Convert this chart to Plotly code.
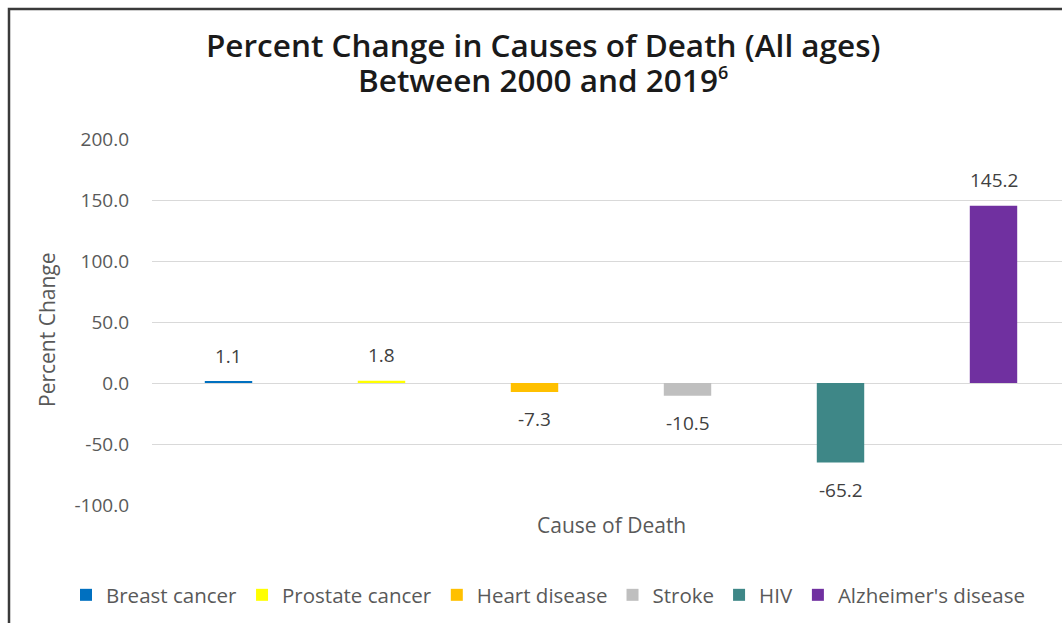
import plotly.graph_objects as go

causes = ["Breast cancer", "Prostate cancer", "Heart disease", "Stroke", "HIV", "Alzheimer's disease"]
values = [1.1, 1.8, -7.3, -10.5, -65.2, 145.2]
colors = ["#0070C0", "#FFFF00", "#FFC000", "#BFBFBF", "#3E8787", "#7030A0"]
y_ticks = [-100, -50, 0, 50, 100, 150, 200]
y_tick_labels = [f"{t:.1f}" for t in y_ticks]

fig = go.Figure()
for i, (name, v, c) in enumerate(zip(causes, values, colors)):
    fig.add_trace(go.Bar(x=[i], y=[v], name=name, marker_color=c, marker_line_width=0,
                         width=0.31, hoverinfo="name+y"))
    fig.add_annotation(x=i, y=v, xref="x", yref="y", text=f"{v:.1f}", showarrow=False,
                       xanchor="center", yanchor="middle",
                       yshift=26 if v >= 0 else -27,
                       font=dict(family="Open Sans", size=19, color="#404040"))

W, H = 1062, 623
L, R, T, B = 152, 0, 139, 118
pw, ph = W - L - R, H - T - B

def px(x):
    return (x - L) / pw

def py(y):
    return (H - B - y) / ph

title_font = dict(family="Open Sans", size=31.5, color="#1A1A1A", weight=600)
fig.add_annotation(x=px(543), y=py(45), xref="paper", yref="paper",
                   text="Percent Change in Causes of Death (All ages)",
                   xanchor="center", yanchor="middle", showarrow=False, font=title_font)
fig.add_annotation(x=px(543), y=py(80), xref="paper", yref="paper",
                   text="Between 2000 and 2019<sup><span style='font-size:18px'>6</span></sup>",
                   xanchor="center", yanchor="middle", showarrow=False, font=title_font)

fig.add_annotation(x=px(611), y=py(525), xref="paper", yref="paper", text="Cause of Death",
                   xanchor="center", yanchor="middle",
                   showarrow=False, font=dict(family="Open Sans", size=21, color="#595959"))
fig.add_annotation(x=px(47), y=py(330), xref="paper", yref="paper", text="Percent Change",
                   textangle=-90, xanchor="center", yanchor="middle", showarrow=False,
                   font=dict(family="Open Sans", size=21, color="#595959"))

fig.add_shape(type="rect", xref="paper", yref="paper", x0=px(9), y0=py(650), x1=px(1080), y1=py(9),
              line=dict(color="#3A3A3A", width=2.5), fillcolor="rgba(0,0,0,0)", layer="above")

fig.update_layout(
    width=W, height=H,
    margin=dict(l=L, r=R, t=T, b=B),
    paper_bgcolor="white", plot_bgcolor="white",
    barmode="overlay",
    xaxis=dict(range=[-0.5, 5.5 - 8 / 153], showticklabels=False, showgrid=False,
               zeroline=False, showline=False, ticks=""),
    yaxis=dict(range=[-100, 200], tickvals=y_ticks, ticktext=y_tick_labels,
               showgrid=True, gridcolor="#D9D9D9", gridwidth=1,
               zeroline=True, zerolinecolor="#D9D9D9", zerolinewidth=1,
               showline=False, ticks="", ticklabelstandoff=22,
               tickfont=dict(family="Open Sans", size=19, color="#595959")),
    legend=dict(orientation="h", x=px(66), xanchor="left", y=py(595), yanchor="middle",
                font=dict(family="Open Sans", size=20.5, color="#595959"),
                bgcolor="rgba(0,0,0,0)"),
    showlegend=True,
)

fig.write_html("out.html", config={"displayModeBar": False},
               post_script="document.body.style.margin='0';document.body.style.overflow='hidden';")
